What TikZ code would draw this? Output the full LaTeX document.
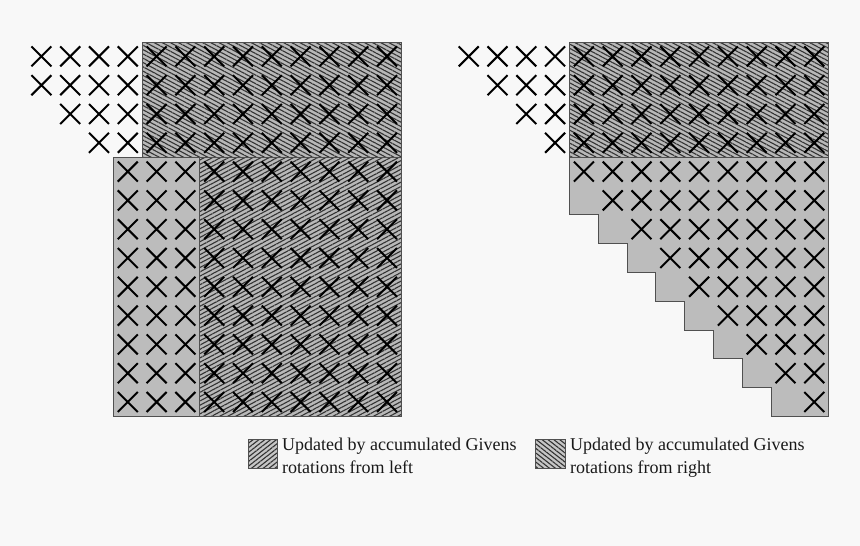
\documentclass[tikz,border=0pt]{standalone}
\usepackage{fontspec}
\setmainfont{Liberation Serif}
\usetikzlibrary{patterns.meta}
\definecolor{bg}{HTML}{F8F8F8}
\definecolor{cellgray}{HTML}{BCBCBC}
\definecolor{hatchbg}{HTML}{B8B8B8}
\definecolor{edge}{HTML}{505050}
\definecolor{hatchline}{HTML}{333333}
\begin{document}
\begin{tikzpicture}[x=1pt,y=-1pt,
  xline/.style={line width=2pt,black},
  box/.style={draw=edge,line width=1pt},
  plain/.style={box,fill=cellgray},
  hatchR/.style={pattern={Lines[angle=-28,distance=3.8pt,line width=1.1pt]},pattern color=hatchline},
  hatchL/.style={pattern={Lines[angle=28,distance=3.8pt,line width=1.1pt]},pattern color=hatchline},
  swR/.style={pattern={Lines[angle=-38,distance=3.6pt,line width=1.1pt]},pattern color=hatchline},
  swL/.style={pattern={Lines[angle=38,distance=3.6pt,line width=1.1pt]},pattern color=hatchline},
  legend/.style={anchor=north west,inner sep=0pt,align=left,text=black!90,font=\fontsize{18}{23.5}\selectfont},
  xm/.pic={\draw[xline] (-0.347,-0.347)--(0.347,0.347) (-0.347,0.347)--(0.347,-0.347);}
]
\fill[bg] (0,0) rectangle (860,546);
\useasboundingbox (0,0) rectangle (860,546);

% ---------- left matrix ----------
\begin{scope}[shift={(27pt,-42pt)},x=28.8pt,y=-28.8pt]
  % lower block
  \fill[cellgray] (3,4) rectangle (6,13);
  \fill[hatchbg] (6,4) rectangle (13,13);
  \fill[hatchL] (6,4) rectangle (13,13);
  \draw[box] (3,4) rectangle (13,13);
  \draw[box] (6,4) -- (6,13);
  % top block
  \fill[hatchbg] (4,0) rectangle (13,4);
  \fill[hatchR] (4,0) rectangle (13,4);
  \draw[box] (4,0) rectangle (13,4);
  % crosses
  \foreach \r/\c in {0/0,1/0,2/1,3/2}
    \foreach \j in {\c,...,12}
      \pic at ({\j+0.5},{\r+0.5}) {xm};
  \foreach \r in {4,...,12}
    \foreach \j in {3,...,12}
      \pic at ({\j+0.5},{\r+0.5}) {xm};
\end{scope}

% ---------- right matrix ----------
\begin{scope}[shift={(454.3pt,-42pt)},x=28.8pt,y=-28.8pt]
  \draw[box,fill=cellgray] (4,4) -- (13,4) -- (13,13) -- (11,13) -- (11,12) -- (10,12)
    -- (10,11) -- (9,11) -- (9,10) -- (8,10) -- (8,9) -- (7,9) -- (7,8) -- (6,8)
    -- (6,7) -- (5,7) -- (5,6) -- (4,6) -- cycle;
  \fill[hatchbg] (4,0) rectangle (13,4);
  \fill[hatchR] (4,0) rectangle (13,4);
  \draw[box] (4,0) rectangle (13,4);
  \foreach \r in {0,...,3}
    \foreach \j in {\r,...,12}
      \pic at ({\j+0.5},{\r+0.5}) {xm};
  \foreach \r in {4,...,12}
    \foreach \j in {\r,...,12}
      \pic at ({\j+0.5},{\r+0.5}) {xm};
\end{scope}

% ---------- legend ----------
\fill[hatchbg!80!white] (248,439) rectangle (277,468);
\fill[swL] (248,439) rectangle (277,468);
\draw[box] (248,439) rectangle (277,468);
\node[legend] (legL) at (282,437.5) {Updated by accumulated Givens\\rotations from left};

\fill[hatchbg!80!white] (535,439) rectangle (565,468);
\fill[swR] (535,439) rectangle (565,468);
\draw[box] (535,439) rectangle (565,468);
\node[legend] (legR) at (570,437.5) {Updated by accumulated Givens\\rotations from right};
\end{tikzpicture}
\end{document}
